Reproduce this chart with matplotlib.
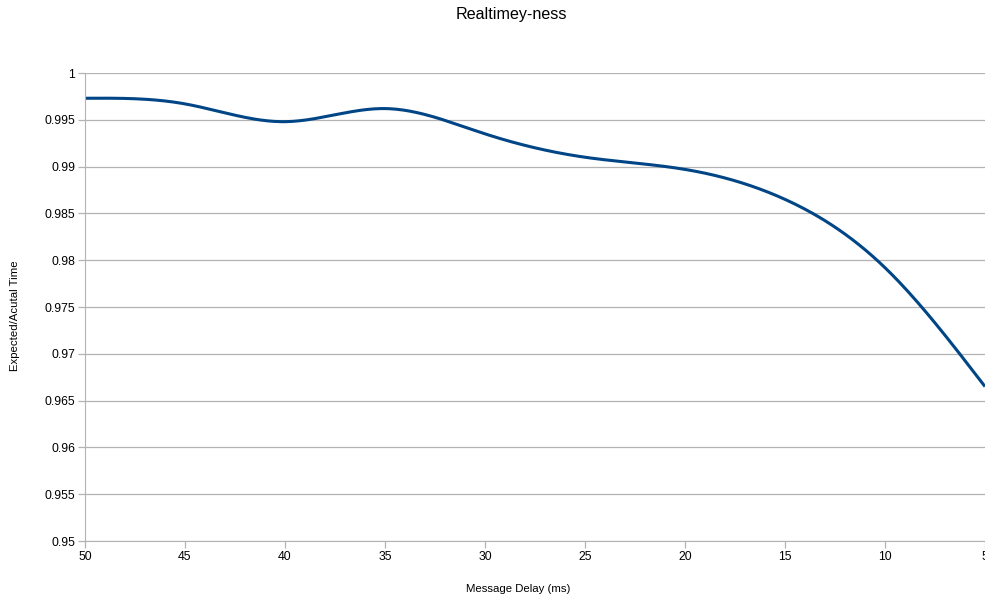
import numpy as np
import matplotlib.pyplot as plt

plt.rcParams['font.family'] = ['Liberation Sans', 'DejaVu Sans']

# message delay (ms) and expected/actual time ratio
delay = [50, 45, 40, 35, 30, 25, 20, 15, 10, 5]
ratio = [0.9973, 0.9967, 0.9948, 0.9962, 0.9935, 0.9910, 0.9897, 0.9865, 0.9792, 0.9665]
y_ticks = [0.95, 0.955, 0.96, 0.965, 0.97, 0.975, 0.98, 0.985, 0.99, 0.995, 1]
y_labels = ['0.95', '0.955', '0.96', '0.965', '0.97', '0.975', '0.98', '0.985', '0.99', '0.995', '1']
x_ticks = [50, 45, 40, 35, 30, 25, 20, 15, 10, 5]


def natural_spline(x, y, n=400):
    # natural cubic spline, only used to draw the line smooth like the original
    x = np.asarray(x, float)[::-1]
    y = np.asarray(y, float)[::-1]
    h = np.diff(x)
    k = len(x)
    A = np.zeros((k, k))
    b = np.zeros(k)
    A[0, 0] = A[-1, -1] = 1
    for i in range(1, k - 1):
        A[i, i - 1] = h[i - 1]
        A[i, i] = 2 * (h[i - 1] + h[i])
        A[i, i + 1] = h[i]
        b[i] = 6 * ((y[i + 1] - y[i]) / h[i] - (y[i] - y[i - 1]) / h[i - 1])
    m = np.linalg.solve(A, b)
    xs = np.linspace(x[0], x[-1], n)
    idx = np.clip(np.searchsorted(x, xs) - 1, 0, k - 2)
    t0 = x[idx]
    t1 = x[idx + 1]
    hh = h[idx]
    ys = (m[idx] * (t1 - xs) ** 3 / (6 * hh) + m[idx + 1] * (xs - t0) ** 3 / (6 * hh)
          + (y[idx] / hh - m[idx] * hh / 6) * (t1 - xs)
          + (y[idx + 1] / hh - m[idx + 1] * hh / 6) * (xs - t0))
    return xs, ys


fig = plt.figure(figsize=(9.85, 5.97), dpi=100)
ax = fig.add_axes([85 / 985, 56 / 597, 900 / 985, 468 / 597])

xs, ys = natural_spline(delay, ratio)
ax.plot(xs, ys, color='#004586', linewidth=2.2, solid_capstyle='butt')

ax.set_xlim(50, 5)
ax.set_ylim(0.95, 1)
ax.set_xticks(x_ticks)
ax.set_xticklabels([str(v) for v in x_ticks])
ax.set_yticks(y_ticks)
ax.set_yticklabels(y_labels)
ax.grid(axis='y', color='#b3b3b3', linewidth=0.9)
ax.set_axisbelow(True)

for s in ['top', 'right']:
    ax.spines[s].set_visible(False)
for s in ['left', 'bottom']:
    ax.spines[s].set_color('#b3b3b3')
ax.tick_params(axis='both', colors='#b3b3b3', labelcolor='black', labelsize=8.8, length=5, width=0.9)
ax.tick_params(axis='y', pad=2)
ax.tick_params(axis='x', pad=2)

fig.text(511 / 985, 1 - 14 / 597, 'Realtimey-ness', ha='center', va='center', fontsize=11.6)
fig.text(518 / 985, 1 - 589 / 597, 'Message Delay (ms)', ha='center', va='center', fontsize=8.2)
fig.text(15 / 985, 1 - 316 / 597, 'Expected/Acutal Time', ha='center', va='center', fontsize=8.2, rotation=90)

fig.savefig('out.png', dpi=100)
